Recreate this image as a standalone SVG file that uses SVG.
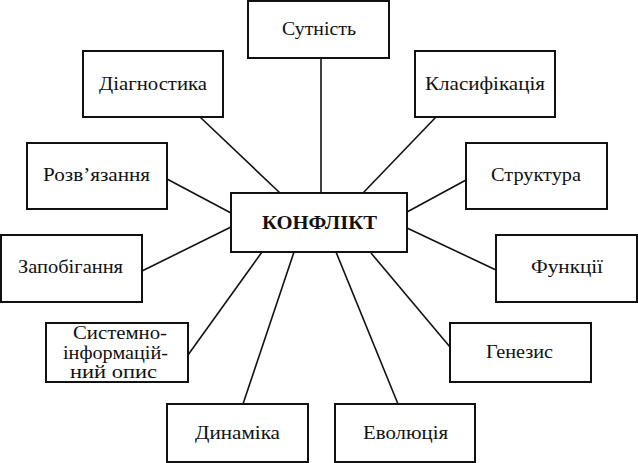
<svg xmlns="http://www.w3.org/2000/svg" width="638" height="463" viewBox="0 0 638 463">
<style>
.box{fill:#fff;stroke:#111;stroke-width:2}
.t{font-family:"Liberation Serif","Times New Roman",serif;font-size:18px;fill:#111;text-anchor:middle}
.b{font-weight:bold;font-size:19px}
.c line{stroke:#111;stroke-width:1.6}
</style>
<rect width="638" height="463" fill="#fff"/>
<g class="c" id="connectors">
<line x1="321" y1="58" x2="321" y2="193"/>
<line x1="200" y1="117" x2="280" y2="193"/>
<line x1="436" y1="117" x2="363" y2="193"/>
<line x1="167" y1="179" x2="231" y2="213"/>
<line x1="142" y1="271" x2="231" y2="227"/>
<line x1="466" y1="180" x2="407" y2="212"/>
<line x1="496" y1="270" x2="407" y2="228"/>
<line x1="188" y1="355" x2="262" y2="252"/>
<line x1="243" y1="404" x2="294" y2="252"/>
<line x1="398" y1="404" x2="336" y2="252"/>
<line x1="450" y1="347" x2="371" y2="253"/>
</g>
<g id="n-konflikt"><rect class="box" x="231" y="193" width="176" height="59"/><text class="t b" x="319.5" y="229" textLength="115" lengthAdjust="spacingAndGlyphs">КОНФЛІКТ</text></g>
<g id="n-sutnist"><rect class="box" x="248" y="1" width="141" height="57"/><text class="t" x="319" y="35" textLength="74" lengthAdjust="spacingAndGlyphs">Сутність</text></g>
<g id="n-diagnostyka"><rect class="box" x="83" y="51" width="140" height="66"/><text class="t" x="153" y="90" textLength="108" lengthAdjust="spacingAndGlyphs">Діагностика</text></g>
<g id="n-klasyfikatsiia"><rect class="box" x="415" y="51" width="140" height="66"/><text class="t" x="485" y="90" textLength="120" lengthAdjust="spacingAndGlyphs">Класифікація</text></g>
<g id="n-rozviazannia"><rect class="box" x="27" y="143" width="140" height="66"/><text class="t" x="96.5" y="181" textLength="107" lengthAdjust="spacingAndGlyphs">Розв’язання</text></g>
<g id="n-struktura"><rect class="box" x="466" y="143" width="141" height="66"/><text class="t" x="536" y="181" textLength="90" lengthAdjust="spacingAndGlyphs">Структура</text></g>
<g id="n-zapobihannia"><rect class="box" x="1" y="235" width="141" height="67"/><text class="t" x="70.5" y="273" textLength="105" lengthAdjust="spacingAndGlyphs">Запобігання</text></g>
<g id="n-funktsii"><rect class="box" x="496" y="235" width="141" height="67"/><text class="t" x="567" y="273" textLength="72" lengthAdjust="spacingAndGlyphs">Функції</text></g>
<g id="n-systemno"><rect class="box" x="46" y="323" width="142" height="59"/><text class="t" x="120" y="339" textLength="94" lengthAdjust="spacingAndGlyphs">Системно-</text><text class="t" x="115.5" y="359" textLength="105" lengthAdjust="spacingAndGlyphs">інформацій-</text><text class="t" x="113.5" y="378" textLength="87" lengthAdjust="spacingAndGlyphs">ний опис</text></g>
<g id="n-henezys"><rect class="box" x="450" y="323" width="141" height="59"/><text class="t" x="519.5" y="358" textLength="67" lengthAdjust="spacingAndGlyphs">Генезис</text></g>
<g id="n-dynamika"><rect class="box" x="167" y="404" width="141" height="58"/><text class="t" x="237.5" y="439" textLength="85" lengthAdjust="spacingAndGlyphs">Динаміка</text></g>
<g id="n-evoliutsiia"><rect class="box" x="335" y="404" width="140" height="58"/><text class="t" x="405.5" y="439" textLength="85" lengthAdjust="spacingAndGlyphs">Еволюція</text></g>
</svg>
